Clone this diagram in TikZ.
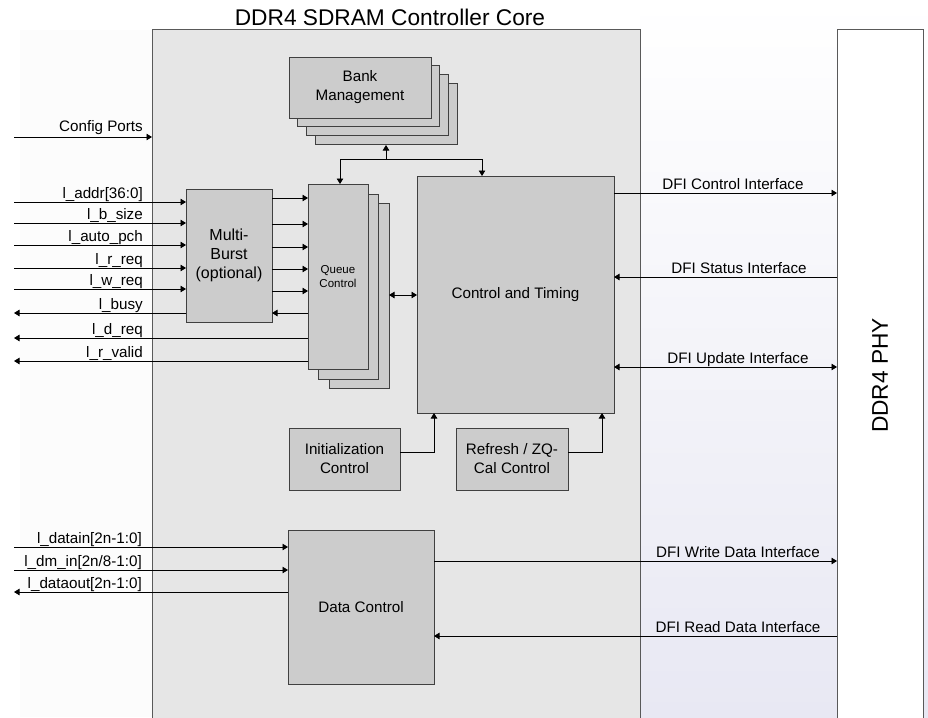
\documentclass[tikz,border=0pt]{standalone}
\usepackage{fontspec}
\setmainfont{Liberation Sans}
\usetikzlibrary{arrows.meta}
\definecolor{corefill}{HTML}{E6E6E6}
\definecolor{blkfill}{HTML}{CCCCCC}
\definecolor{lav}{HTML}{E8E8F3}
\begin{document}
\begin{tikzpicture}[x=1pt,y=-1pt,
  font=\fontsize{15.2}{19}\selectfont,
  blk/.style={draw=black!75, fill=blkfill, line width=0.9pt, inner sep=0pt, outer sep=0pt, align=center, anchor=north west},
  shadowbox/.style={draw=black!75, fill=blkfill, line width=0.9pt},
  sig/.style={line width=0.9pt, draw=black},
  tip/.style={-{Triangle[length=5.5pt,width=6.5pt]}},
  tipb/.style={{Triangle[length=5.5pt,width=6.5pt]}-{Triangle[length=5.5pt,width=6.5pt]}},
  lbl/.style={inner sep=0pt, anchor=base east},
  dfi/.style={inner sep=0pt, anchor=base}
]
\useasboundingbox (0,0) rectangle (928,717);
\fill[white] (0,0) rectangle (928,717);
\fill[black!1] (20,30) rectangle (152,717);
\shade[top color=white, bottom color=lav] (640,0) rectangle (928,717);

% core
\node[draw=black!65, fill=corefill, line width=1pt, minimum width=488pt, minimum height=700pt, anchor=north west, inner sep=0pt, outer sep=0pt] (core) at (152,30) {};
\node[font=\fontsize{22.7}{26}\selectfont, anchor=base] (title) at (390,26) {DDR4 SDRAM Controller Core};

% PHY
\node[draw=black!65, fill=white, line width=1pt, minimum width=86pt, minimum height=700pt, anchor=north west, inner sep=0pt, outer sep=0pt] (phy) at (837,30) {};
\node[font=\fontsize{22.7}{26}\selectfont, rotate=90] (phylbl) at (880,375.5) {DDR4 PHY};

% Bank management stack
\foreach \d in {26,17,8}{
  \draw[shadowbox] (289+\d,57+\d) rectangle ++(142,61);
}
\node[blk, minimum width=142pt, minimum height=61pt] (bank) at (289,57) {Bank\\Management};
\coordinate (bankbot) at (386,145);

% Queue control stack
\draw[shadowbox] (329,203) rectangle (389,388);
\draw[shadowbox] (318,194) rectangle (378,379);
\node[blk, minimum width=60pt, minimum height=185pt, font=\fontsize{11.5}{14.5}\selectfont] (queue) at (308,184) {Queue\\Control};
\coordinate (queueback) at (389,295);

% Multi-burst
\node[blk, minimum width=86pt, minimum height=133pt, font=\fontsize{16}{19}\selectfont] (mb) at (186,189) {Multi-\\Burst\\(optional)};

% Control and Timing
\node[blk, minimum width=197pt, minimum height=237pt] (ct) at (417,176) {Control and Timing};

% Init / Refresh
\node[blk, minimum width=111pt, minimum height=62pt] (init) at (289,428) {Initialization\\Control};
\node[blk, minimum width=112pt, minimum height=62pt] (ref) at (456,428) {Refresh / ZQ-\\Cal Control};

% Data control
\node[blk, minimum width=146pt, minimum height=154pt] (dc) at (288,530) {Data Control};

% ---- Bank connections
\coordinate (bj) at (386,159);
\draw[sig,tip] (bj) -- (bankbot);
\draw[sig,tip] (bj) -- (340,159) -- (queue.north -| 340,0);
\draw[sig,tip] (bj) -- (482,159) -- (ct.north -| 482,0);

% ---- Config ports
\coordinate (cfg) at (14,137);
\draw[sig,tip] (cfg) -- (core.west |- cfg);
\node[lbl] (cfgl) at (143,131) {Config Ports};

% ---- inputs to multi-burst
\foreach \y/\t/\n in {202/l\_addr[36:0]/a, 223/l\_b\_size/b, 245/l\_auto\_pch/c, 268/l\_r\_req/d, 289/l\_w\_req/e}{
  \coordinate (in\n) at (14,\y);
  \draw[sig,tip] (in\n) -- (mb.west |- in\n);
  \node[lbl] (lb\n) at (143,\y-3.5) {\t};
}
% multi-burst to queue
\foreach \y/\n in {198/a,224/b,247/c,269/d,291/e}{
  \coordinate (mq\n) at (272,\y);
  \draw[sig,tip] (mq\n) -- (queue.west |- mq\n);
}
\coordinate (qm) at (308,313);
\draw[sig,tip] (qm) -- (mb.east |- qm);
% outputs
\coordinate (obusy) at (14,313);
\draw[sig,tip] (mb.west |- obusy) -- (obusy);
\node[lbl] (lbusy) at (143,309.5) {l\_busy};
\coordinate (odreq) at (14,338);
\draw[sig,tip] (queue.west |- odreq) -- (odreq);
\node[lbl] (ldreq) at (143,334.5) {l\_d\_req};
\coordinate (orv) at (14,361);
\draw[sig,tip] (queue.west |- orv) -- (orv);
\node[lbl] (lrv) at (143,357.5) {l\_r\_valid};

% queue <-> control
\draw[sig,tipb] (queueback) -- (ct.west |- queueback);

% DFI control interfaces
\coordinate (dfi1) at (614,193);
\draw[sig,tip] (dfi1) -- (phy.west |- dfi1);
\node[dfi] (ldfi1) at (733,189) {DFI Control Interface};
\coordinate (dfi2) at (837,277);
\draw[sig,tip] (dfi2) -- (ct.east |- dfi2);
\node[dfi] (ldfi2) at (739,273) {DFI Status Interface};
\coordinate (dfi3) at (614,367);
\draw[sig,tipb] (dfi3) -- (phy.west |- dfi3);
\node[dfi] (ldfi3) at (738,363) {DFI Update Interface};

% init/refresh to control
\draw[sig,tip] (init.east |- 0,452) -- (434,452) -- (ct.south -| 434,0);
\draw[sig,tip] (ref.east |- 0,452) -- (602,452) -- (ct.south -| 602,0);

% data signals
\coordinate (din) at (14,547);
\draw[sig,tip] (din) -- (dc.west |- din);
\node[lbl] (ldin) at (142,543.5) {l\_datain[2n-1:0]};
\coordinate (dm) at (14,570);
\draw[sig,tip] (dm) -- (dc.west |- dm);
\node[lbl] (ldm) at (142,566) {l\_dm\_in[2n/8-1:0]};
\coordinate (dout) at (14,592);
\draw[sig,tip] (dc.west |- dout) -- (dout);
\node[lbl] (ldout) at (142,588) {l\_dataout[2n-1:0]};

% DFI data
\coordinate (wd) at (434,561);
\draw[sig,tip] (wd) -- (phy.west |- wd);
\node[dfi] (lwd) at (738,557) {DFI Write Data Interface};
\coordinate (rd) at (837,636);
\draw[sig,tip] (rd) -- (dc.east |- rd);
\node[dfi] (lrd) at (738,632) {DFI Read Data Interface};
\end{tikzpicture}
\end{document}
